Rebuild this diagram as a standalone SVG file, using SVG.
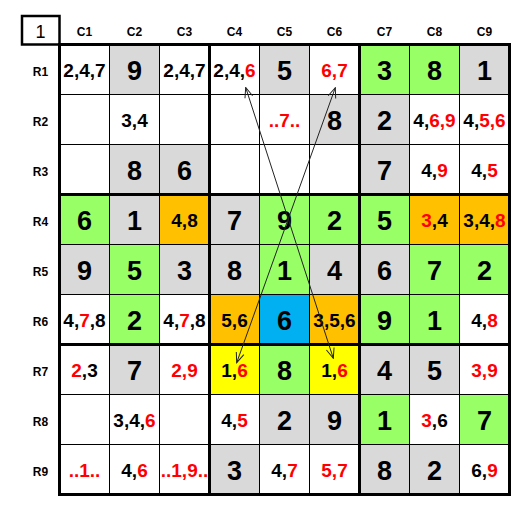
<svg xmlns="http://www.w3.org/2000/svg" width="532" height="512" viewBox="0 0 532 512">
<style>
.w{fill:#ffffff}.g{fill:#d9d9d9}.gr{fill:#99ff66}.o{fill:#ffc000}.y{fill:#ffff00}.b{fill:#00b0f0}
text{font-family:"Liberation Sans",Arial,sans-serif;text-anchor:middle;fill:#000}
.big{font-size:27px;font-weight:bold}
.c{font-size:19px;font-weight:bold}
.hd{font-size:12px;font-weight:bold}
.r{fill:#ff0000}
.thin{stroke:#000;stroke-width:1;fill:none}
.thick{stroke:#000;stroke-width:3;fill:none}
.arr{stroke:#222;stroke-width:1;fill:none;marker-start:url(#ah);marker-end:url(#ah)}
</style>
<defs>
<marker id="ah" viewBox="0 0 12 10" refX="11" refY="5" markerWidth="12" markerHeight="10" markerUnits="userSpaceOnUse" orient="auto-start-reverse">
<path d="M1,1 L11,5 L1,9" fill="none" stroke="#222" stroke-width="1"/>
</marker>
</defs>
<rect width="532" height="512" fill="#fff"/>
<g id="corner">
<rect x="22" y="16" width="37.5" height="28.5" fill="#fff" stroke="#000" stroke-width="2.5"/>
<text x="40.5" y="38" style="font-size:18px">1</text>
</g>
<g id="colheaders" class="hd">
<text class="hd" x="84.5" y="36">C1</text><text class="hd" x="134.5" y="36">C2</text><text class="hd" x="184.5" y="36">C3</text>
<text class="hd" x="234.5" y="36">C4</text><text class="hd" x="284.5" y="36">C5</text><text class="hd" x="334.5" y="36">C6</text>
<text class="hd" x="384.5" y="36">C7</text><text class="hd" x="434.5" y="36">C8</text><text class="hd" x="484.5" y="36">C9</text>
</g>
<g id="rowheaders">
<text class="hd" x="40.5" y="76">R1</text><text class="hd" x="40.5" y="126">R2</text><text class="hd" x="40.5" y="176">R3</text>
<text class="hd" x="40.5" y="226">R4</text><text class="hd" x="40.5" y="276">R5</text><text class="hd" x="40.5" y="326">R6</text>
<text class="hd" x="40.5" y="376">R7</text><text class="hd" x="40.5" y="426">R8</text><text class="hd" x="40.5" y="476">R9</text>
</g>
<rect x="59.5" y="44.5" width="450" height="450" class="w"/>
<!-- R1 -->
<g id="r1c1"><text class="c" x="84.5" y="77">2,4,7</text></g>
<g id="r1c2"><rect class="g" x="109.5" y="44.5" width="50" height="50"/><text class="big" x="134.5" y="79.5">9</text></g>
<g id="r1c3"><text class="c" x="184.5" y="77">2,4,7</text></g>
<g id="r1c4"><text class="c" x="234.5" y="77">2,4,<tspan class="r">6</tspan></text></g>
<g id="r1c5"><rect class="g" x="259.5" y="44.5" width="50" height="50"/><text class="big" x="284.5" y="79.5">5</text></g>
<g id="r1c6"><text class="c r" x="334.5" y="77">6,7</text></g>
<g id="r1c7"><rect class="gr" x="359.5" y="44.5" width="50" height="50"/><text class="big" x="384.5" y="79.5">3</text></g>
<g id="r1c8"><rect class="gr" x="409.5" y="44.5" width="50" height="50"/><text class="big" x="434.5" y="79.5">8</text></g>
<g id="r1c9"><rect class="g" x="459.5" y="44.5" width="50" height="50"/><text class="big" x="484.5" y="79.5">1</text></g>
<!-- R2 -->
<g id="r2c2"><text class="c" x="134.5" y="127">3,4</text></g>
<g id="r2c5"><text class="c r" x="284.5" y="127">..7..</text></g>
<g id="r2c6"><rect class="g" x="309.5" y="94.5" width="50" height="50"/><text class="big" x="334.5" y="129.5">8</text></g>
<g id="r2c7"><rect class="g" x="359.5" y="94.5" width="50" height="50"/><text class="big" x="384.5" y="129.5">2</text></g>
<g id="r2c8"><text class="c" x="434.5" y="127">4,<tspan class="r">6,9</tspan></text></g>
<g id="r2c9"><text class="c" x="484.5" y="127">4,<tspan class="r">5,6</tspan></text></g>
<!-- R3 -->
<g id="r3c2"><rect class="g" x="109.5" y="144.5" width="50" height="50"/><text class="big" x="134.5" y="179.5">8</text></g>
<g id="r3c3"><rect class="g" x="159.5" y="144.5" width="50" height="50"/><text class="big" x="184.5" y="179.5">6</text></g>
<g id="r3c7"><rect class="g" x="359.5" y="144.5" width="50" height="50"/><text class="big" x="384.5" y="179.5">7</text></g>
<g id="r3c8"><text class="c" x="434.5" y="177">4,<tspan class="r">9</tspan></text></g>
<g id="r3c9"><text class="c" x="484.5" y="177">4,<tspan class="r">5</tspan></text></g>
<!-- R4 -->
<g id="r4c1"><rect class="gr" x="59.5" y="194.5" width="50" height="50"/><text class="big" x="84.5" y="229.5">6</text></g>
<g id="r4c2"><rect class="g" x="109.5" y="194.5" width="50" height="50"/><text class="big" x="134.5" y="229.5">1</text></g>
<g id="r4c3"><rect class="o" x="159.5" y="194.5" width="50" height="50"/><text class="c" x="184.5" y="227">4,8</text></g>
<g id="r4c4"><rect class="g" x="209.5" y="194.5" width="50" height="50"/><text class="big" x="234.5" y="229.5">7</text></g>
<g id="r4c5"><rect class="gr" x="259.5" y="194.5" width="50" height="50"/><text class="big" x="284.5" y="229.5">9</text></g>
<g id="r4c6"><rect class="gr" x="309.5" y="194.5" width="50" height="50"/><text class="big" x="334.5" y="229.5">2</text></g>
<g id="r4c7"><rect class="gr" x="359.5" y="194.5" width="50" height="50"/><text class="big" x="384.5" y="229.5">5</text></g>
<g id="r4c8"><rect class="o" x="409.5" y="194.5" width="50" height="50"/><text class="c" x="434.5" y="227"><tspan class="r">3</tspan>,4</text></g>
<g id="r4c9"><rect class="o" x="459.5" y="194.5" width="50" height="50"/><text class="c" x="484.5" y="227">3,4,<tspan class="r">8</tspan></text></g>
<!-- R5 -->
<g id="r5c1"><rect class="g" x="59.5" y="244.5" width="50" height="50"/><text class="big" x="84.5" y="279.5">9</text></g>
<g id="r5c2"><rect class="gr" x="109.5" y="244.5" width="50" height="50"/><text class="big" x="134.5" y="279.5">5</text></g>
<g id="r5c3"><rect class="g" x="159.5" y="244.5" width="50" height="50"/><text class="big" x="184.5" y="279.5">3</text></g>
<g id="r5c4"><rect class="g" x="209.5" y="244.5" width="50" height="50"/><text class="big" x="234.5" y="279.5">8</text></g>
<g id="r5c5"><rect class="gr" x="259.5" y="244.5" width="50" height="50"/><text class="big" x="284.5" y="279.5">1</text></g>
<g id="r5c6"><rect class="g" x="309.5" y="244.5" width="50" height="50"/><text class="big" x="334.5" y="279.5">4</text></g>
<g id="r5c7"><rect class="g" x="359.5" y="244.5" width="50" height="50"/><text class="big" x="384.5" y="279.5">6</text></g>
<g id="r5c8"><rect class="gr" x="409.5" y="244.5" width="50" height="50"/><text class="big" x="434.5" y="279.5">7</text></g>
<g id="r5c9"><rect class="gr" x="459.5" y="244.5" width="50" height="50"/><text class="big" x="484.5" y="279.5">2</text></g>
<!-- R6 -->
<g id="r6c1"><text class="c" x="84.5" y="327">4,<tspan class="r">7</tspan>,8</text></g>
<g id="r6c2"><rect class="gr" x="109.5" y="294.5" width="50" height="50"/><text class="big" x="134.5" y="329.5">2</text></g>
<g id="r6c3"><text class="c" x="184.5" y="327">4,<tspan class="r">7</tspan>,8</text></g>
<g id="r6c4"><rect class="o" x="209.5" y="294.5" width="50" height="50"/><text class="c" x="234.5" y="327">5,6</text></g>
<g id="r6c5"><rect class="b" x="259.5" y="294.5" width="50" height="50"/><text class="big" x="284.5" y="329.5">6</text></g>
<g id="r6c6"><rect class="o" x="309.5" y="294.5" width="50" height="50"/><text class="c" x="334.5" y="327">3,5,6</text></g>
<g id="r6c7"><rect class="gr" x="359.5" y="294.5" width="50" height="50"/><text class="big" x="384.5" y="329.5">9</text></g>
<g id="r6c8"><rect class="gr" x="409.5" y="294.5" width="50" height="50"/><text class="big" x="434.5" y="329.5">1</text></g>
<g id="r6c9"><text class="c" x="484.5" y="327">4,<tspan class="r">8</tspan></text></g>
<!-- R7 -->
<g id="r7c1"><text class="c" x="84.5" y="377"><tspan class="r">2</tspan>,3</text></g>
<g id="r7c2"><rect class="g" x="109.5" y="344.5" width="50" height="50"/><text class="big" x="134.5" y="379.5">7</text></g>
<g id="r7c3"><text class="c r" x="184.5" y="377">2,9</text></g>
<g id="r7c4"><rect class="y" x="209.5" y="344.5" width="50" height="50"/><text class="c" x="234.5" y="377">1,<tspan class="r">6</tspan></text></g>
<g id="r7c5"><rect class="gr" x="259.5" y="344.5" width="50" height="50"/><text class="big" x="284.5" y="379.5">8</text></g>
<g id="r7c6"><rect class="y" x="309.5" y="344.5" width="50" height="50"/><text class="c" x="334.5" y="377">1,<tspan class="r">6</tspan></text></g>
<g id="r7c7"><rect class="g" x="359.5" y="344.5" width="50" height="50"/><text class="big" x="384.5" y="379.5">4</text></g>
<g id="r7c8"><rect class="g" x="409.5" y="344.5" width="50" height="50"/><text class="big" x="434.5" y="379.5">5</text></g>
<g id="r7c9"><text class="c r" x="484.5" y="377">3,9</text></g>
<!-- R8 -->
<g id="r8c2"><text class="c" x="134.5" y="427">3,4,<tspan class="r">6</tspan></text></g>
<g id="r8c4"><text class="c" x="234.5" y="427">4,<tspan class="r">5</tspan></text></g>
<g id="r8c5"><rect class="g" x="259.5" y="394.5" width="50" height="50"/><text class="big" x="284.5" y="429.5">2</text></g>
<g id="r8c6"><rect class="g" x="309.5" y="394.5" width="50" height="50"/><text class="big" x="334.5" y="429.5">9</text></g>
<g id="r8c7"><rect class="gr" x="359.5" y="394.5" width="50" height="50"/><text class="big" x="384.5" y="429.5">1</text></g>
<g id="r8c8"><text class="c" x="434.5" y="427"><tspan class="r">3</tspan>,6</text></g>
<g id="r8c9"><rect class="gr" x="459.5" y="394.5" width="50" height="50"/><text class="big" x="484.5" y="429.5">7</text></g>
<!-- R9 -->
<g id="r9c1"><text class="c r" x="84.5" y="477">..1..</text></g>
<g id="r9c2"><text class="c" x="134.5" y="477">4,<tspan class="r">6</tspan></text></g>
<g id="r9c3"><text class="c r" x="184.5" y="477">..1,9..</text></g>
<g id="r9c4"><rect class="g" x="209.5" y="444.5" width="50" height="50"/><text class="big" x="234.5" y="479.5">3</text></g>
<g id="r9c5"><text class="c" x="284.5" y="477">4,<tspan class="r">7</tspan></text></g>
<g id="r9c6"><text class="c r" x="334.5" y="477">5,7</text></g>
<g id="r9c7"><rect class="g" x="359.5" y="444.5" width="50" height="50"/><text class="big" x="384.5" y="479.5">8</text></g>
<g id="r9c8"><rect class="g" x="409.5" y="444.5" width="50" height="50"/><text class="big" x="434.5" y="479.5">2</text></g>
<g id="r9c9"><text class="c" x="484.5" y="477">6,<tspan class="r">9</tspan></text></g>
<g id="gridlines">
<path class="thin" d="M109.5,44.5V494.5M159.5,44.5V494.5M259.5,44.5V494.5M309.5,44.5V494.5M409.5,44.5V494.5M459.5,44.5V494.5M59.5,94.5H509.5M59.5,144.5H509.5M59.5,244.5H509.5M59.5,294.5H509.5M59.5,394.5H509.5M59.5,444.5H509.5"/>
<path class="thick" d="M209.5,44.5V494.5M359.5,44.5V494.5M59.5,194.5H509.5M59.5,344.5H509.5"/>
<rect class="thick" x="59.5" y="44.5" width="450" height="450"/>
</g>
<g id="connectors">
<line class="arr" x1="245.7" y1="87.5" x2="333.3" y2="358.3"/>
<line class="arr" x1="335.3" y1="87.7" x2="236.7" y2="362.7"/>
</g>
</svg>
